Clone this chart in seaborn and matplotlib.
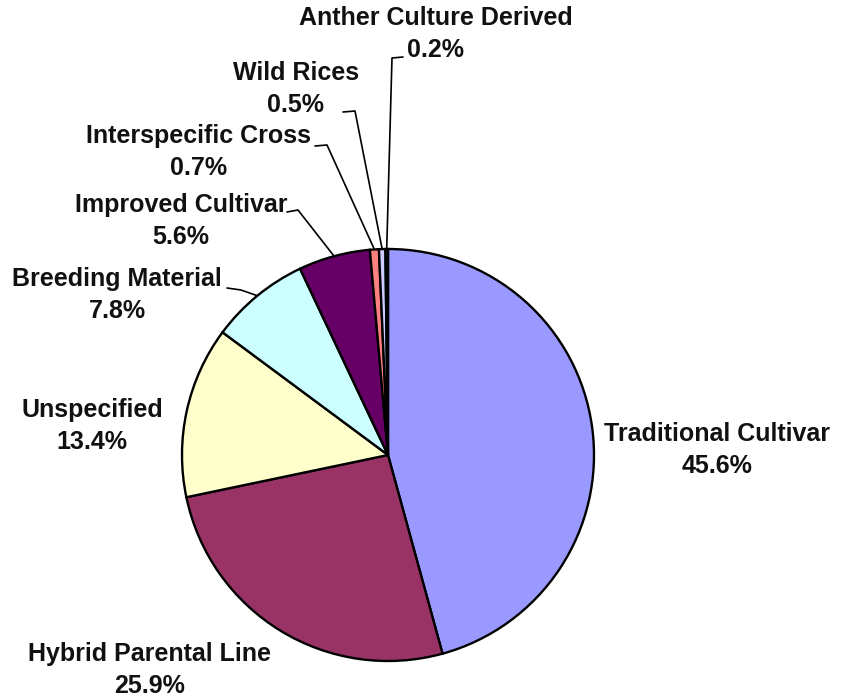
import numpy as np
import matplotlib
matplotlib.use("Agg")
import matplotlib.pyplot as plt
import seaborn as sns

categories = [
    "Traditional Cultivar",
    "Hybrid Parental Line",
    "Unspecified",
    "Breeding Material",
    "Improved Cultivar",
    "Interspecific Cross",
    "Wild Rices",
    "Anther Culture Derived",
]
shares = [45.6, 25.9, 13.4, 7.8, 5.6, 0.7, 0.5, 0.2]
colors = ["#9999FF", "#993366", "#FFFFCC", "#CCFFFF", "#660066",
          "#FF8080", "#CCCCFF", "#1A2A8A"]

sns.set_theme(style="white")
plt.rcParams["font.family"] = ["Liberation Sans", "DejaVu Sans"]

# pixel layout helpers: pie centre (388, 455), radius 206 px
CX, CY, R = 388, 455, 206


def px(x, y):
    return (x - CX) / R, (CY - y) / R


fig = plt.figure(figsize=(8.45, 6.98), dpi=100)
ax = fig.add_axes([0, 0, 1, 1])
ax.pie(shares, colors=colors, startangle=90, counterclock=False,
       wedgeprops=dict(edgecolor="black", linewidth=1.7))
ax.set_xlim(px(0, 0)[0], px(845, 0)[0])
ax.set_ylim(px(0, 698)[1], px(0, 0)[1])
ax.set_aspect("equal")
ax.axis("off")

# label centre positions (px) and leader lines: (tick start, elbow)
label_pos = {
    "Traditional Cultivar": (717, 450),
    "Hybrid Parental Line": (150, 670),
    "Unspecified": (92, 426),
    "Breeding Material": (117, 295),
    "Improved Cultivar": (181, 221),
    "Interspecific Cross": (199, 152),
    "Wild Rices": (296, 89),
    "Anther Culture Derived": (436, 34),
}
leaders = {
    "Breeding Material": ((227, 288), (241, 290)),
    "Improved Cultivar": ((287, 212), (298, 210)),
    "Interspecific Cross": ((315, 146), (327, 145)),
    "Wild Rices": ((343, 112), (355, 111)),
    "Anther Culture Derived": ((403, 57), (392, 58)),
}

total = sum(shares)
cum = 0.0
for cat, val in zip(categories, shares):
    mid = cum + val / 2
    cum += val
    ang = np.deg2rad(90 - 360 * mid / total)
    lx, ly = px(*label_pos[cat])
    ax.text(lx, ly, f"{cat}\n{val:.1f}%", ha="center", va="center",
            fontsize=18, fontweight="bold", linespacing=1.45, color="#111111")
    if cat in leaders:
        (sx, sy), (ex, ey) = leaders[cat]
        p0 = px(sx, sy)
        p1 = px(ex, ey)
        ax.plot([p0[0], p1[0], np.cos(ang)], [p0[1], p1[1], np.sin(ang)],
                color="black", linewidth=1.2)

fig.savefig("out.png", dpi=100, facecolor="white")
